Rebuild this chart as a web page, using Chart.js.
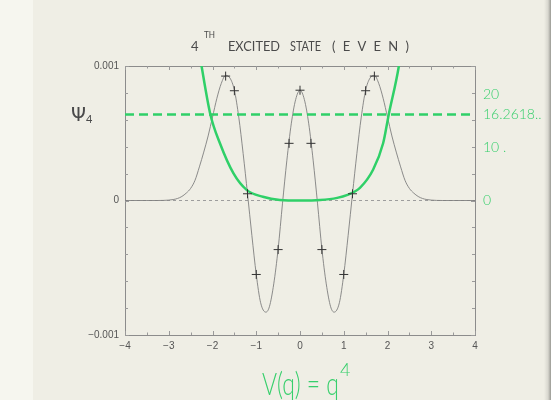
<!DOCTYPE html>
<html>
<head>
<meta charset="utf-8">
<script src="https://cdn.jsdelivr.net/npm/chart.js@4/dist/chart.umd.min.js"></script>
<style>
  html, body { margin: 0; padding: 0; }
  body {
    width: 551px; height: 400px; overflow: hidden;
    background: linear-gradient(to right, #f6f6ef 0px, #f6f6ef 33px, #efeee5 33px, #efeee5 544px, #d8d7cf 548px, #9a9a94 551px);
  }
  canvas { display: block; }
</style>
</head>
<body>
<canvas id="waveChart" width="551" height="400"></canvas>
<script>
// --------------------
// Data
// --------------------
// wavefunction psi_4(q), solid grey curve
const qPsi = [-4, -3.5, -3.25, -3.0, -2.9, -2.8, -2.7, -2.6, -2.5, -2.4, -2.3, -2.2, -2.1, -2.0, -1.9, -1.8, -1.7, -1.6, -1.5, -1.4, -1.3, -1.2, -1.1, -1.0, -0.9, -0.78, -0.7, -0.6, -0.5, -0.4, -0.3, -0.2, -0.1,
              0, 0.1, 0.2, 0.3, 0.4, 0.5, 0.6, 0.7, 0.78, 0.9, 1.0, 1.1, 1.2, 1.3, 1.4, 1.5, 1.6, 1.7, 1.8, 1.9, 2.0, 2.1, 2.2, 2.3, 2.4, 2.5, 2.6, 2.7, 2.8, 2.9, 3.0, 3.25, 3.5, 4];
const psiVals = [0, 0, 0, 0.000003, 0.000007, 0.000015, 0.00003, 0.000055, 0.00009, 0.00015, 0.00025, 0.00036, 0.00048, 0.00062, 0.00076, 0.00087, 0.00093, 0.00091, 0.00082, 0.00062, 0.00035, 0.00005, -0.00026, -0.00055, -0.00076, -0.00083, -0.00079, -0.00062, -0.00036, -0.00002, 0.0003, 0.00057, 0.00075,
                 0.00082, 0.00075, 0.00057, 0.0003, -0.00002, -0.00036, -0.00062, -0.00079, -0.00083, -0.00076, -0.00055, -0.00026, 0.00005, 0.00035, 0.00062, 0.00082, 0.00091, 0.00093, 0.00087, 0.00076, 0.00062, 0.00048, 0.00036, 0.00025, 0.00015, 0.00009, 0.000055, 0.00003, 0.000015, 0.000007, 0.000003, 0, 0, 0];

// the "+" markers
const crossQ = [-1.7, -1.5, -1.2, -1.0, -0.5, -0.25, 0, 0.25, 0.5, 1.0, 1.2, 1.5, 1.7];
const crossPsi = [0.000925, 0.000816, 0.00005, -0.00055, -0.000365, 0.000425, 0.00082, 0.000425, -0.000365, -0.00055, 0.00005, 0.000816, 0.000925];

// hand drawn potential V(q) = q^4 (right axis)
const potQ = [-2.32, -2.25, -2.05, -1.83, -1.52, -1.22, -0.85, -0.46, 0, 0.46, 0.85, 1.07, 1.37, 1.67, 1.9, 2.03, 2.26, 2.32];
const potV = [29, 25.4, 16.3, 10.8, 5.1, 2.0, 0.7, 0.1, 0, 0.1, 0.5, 1.0, 2.4, 5.8, 10.8, 16.3, 25.4, 29];

// energy level of the state
const energyLevel = 16.2618;

// tick labels
const xTicks = [-4, -3, -2, -1, 0, 1, 2, 3, 4];
const yTicks = [-0.001, 0, 0.001];
const yTickLabels = ['\u22120.001', '0', '0.001'];
const y2Ticks = [0, 10, 16.2618, 20];
const y2TickLabels = ['0', '10 .', '16.2618..', '20'];

const GREEN = '#2fd068';
const GREEN_TEXT = '#37cf6c';
const GREY = '#7f7f7f';
const INK = '#4a4a4a';

function pairs(xs, ys) {
    return xs.map((x, i) => ({ x: x, y: ys[i] }));
}

// --------------------
// Frame, inward ticks and handwritten notes
// --------------------
const paperPlugin = {
    id: 'paper',
    beforeDatasetsDraw(chart) {
        const { ctx, chartArea: a, scales } = chart;
        ctx.save();
        ctx.strokeStyle = '#8c8c8c';
        ctx.lineWidth = 1;
        ctx.strokeRect(a.left + 0.5, a.top + 0.5, a.right - a.left, a.bottom - a.top);
        ctx.strokeStyle = '#9a9a9a';
        ctx.beginPath();
        for (let v = -4; v <= 4.001; v += 0.5) {
            const px = Math.round(scales.x.getPixelForValue(v)) + 0.5;
            const len = Number.isInteger(v) ? 4 : 2.5;
            ctx.moveTo(px, a.bottom); ctx.lineTo(px, a.bottom - len);
            ctx.moveTo(px, a.top); ctx.lineTo(px, a.top + len);
        }
        for (let k = -5; k <= 5; k++) {
            const py = Math.round(scales.y.getPixelForValue(k * 0.0002)) + 0.5;
            const len = (k % 5 === 0) ? 4 : 3;
            ctx.moveTo(a.left, py); ctx.lineTo(a.left + len, py);
            ctx.moveTo(a.right, py); ctx.lineTo(a.right - len, py);
        }
        ctx.stroke();
        ctx.restore();
    },
    afterDraw(chart) {
        const ctx = chart.ctx;
        // squeeze or spread a word so it covers the same width as the pen
        const fitText = (text, x, y, width) => {
            ctx.letterSpacing = '0px';
            const w = ctx.measureText(text).width;
            if (w > width) {
                ctx.save();
                ctx.translate(x, y);
                ctx.scale(width / w, 1);
                ctx.fillText(text, 0, 0);
                ctx.restore();
            } else {
                const sp = text.length > 1 ? (width - w) / (text.length - 1) : 0;
                ctx.letterSpacing = sp.toFixed(2) + 'px';
                ctx.fillText(text, x, y);
                ctx.letterSpacing = '0px';
            }
        };
        ctx.save();
        ctx.textAlign = 'left';
        ctx.textBaseline = 'alphabetic';

        // title
        ctx.fillStyle = INK;
        ctx.font = '13px Lato';
        fitText('4', 191, 51, 8);
        ctx.font = '9px Lato';
        fitText('TH', 204, 38, 11);
        ctx.font = '13px Lato';
        fitText('EXCITED', 228, 51, 52);
        fitText('STATE', 290, 51, 31);
        fitText('(EVEN)', 332, 51, 77);

        // psi_4 label
        ctx.font = '19px "DejaVu Sans"';
        ctx.fillText('\u03A8', 71, 121);
        ctx.font = '11px Lato';
        ctx.fillText('4', 86, 123);

        // V(q) = q^4
        ctx.fillStyle = GREEN_TEXT;
        ctx.font = '300 31px Lato';
        fitText('V(q) = q', 262, 395, 77);
        ctx.font = '300 18px Lato';
        ctx.fillText('4', 340, 376);
        ctx.restore();
    }
};

// --------------------
// Render chart
// --------------------
const ctx = document.getElementById('waveChart').getContext('2d');
new Chart(ctx, {
    type: 'scatter',
    data: {
        datasets: [
            {
                label: 'zero',
                data: pairs([-4, 4], [0, 0]),
                showLine: true,
                borderColor: '#9d9d9d',
                borderWidth: 1,
                borderDash: [3, 3],
                pointRadius: 0,
                yAxisID: 'y',
                order: 5
            },
            {
                label: 'psi4',
                data: pairs(qPsi, psiVals),
                showLine: true,
                borderColor: GREY,
                borderWidth: 0.9,
                cubicInterpolationMode: 'monotone',
                pointRadius: 0,
                yAxisID: 'y',
                order: 4
            },
            {
                label: 'E4',
                data: pairs([-4, 4], [energyLevel, energyLevel]),
                showLine: true,
                borderColor: GREEN,
                borderWidth: 2.5,
                borderDash: [9, 5],
                pointRadius: 0,
                yAxisID: 'y2',
                order: 2
            },
            {
                label: 'V(q)',
                data: pairs(potQ, potV),
                showLine: true,
                borderColor: GREEN,
                borderWidth: 2.5,
                cubicInterpolationMode: 'monotone',
                pointRadius: 0,
                yAxisID: 'y2',
                order: 3
            },
            {
                label: 'points',
                data: pairs(crossQ, crossPsi),
                showLine: false,
                pointStyle: 'cross',
                pointRadius: 4.5,
                borderColor: '#333333',
                borderWidth: 1,
                yAxisID: 'y',
                order: 1
            }
        ]
    },
    options: {
        responsive: false,
        animation: false,
        layout: { padding: { top: 66, left: 0, right: 0, bottom: 0 } },
        plugins: {
            legend: { display: false },
            tooltip: { enabled: false }
        },
        scales: {
            x: {
                type: 'linear',
                min: -4, max: 4,
                afterBuildTicks: s => { s.ticks = xTicks.map(v => ({ value: v })); },
                afterFit: s => { s.height = 65; },
                grid: { display: false, drawTicks: false },
                border: { display: false },
                ticks: {
                    padding: 5,
                    maxRotation: 0,
                    color: '#555',
                    font: { family: 'Liberation Sans', size: 10 },
                    callback: v => (v < 0 ? '\u2212' + Math.abs(v) : String(v))
                }
            },
            y: {
                position: 'left',
                min: -0.001, max: 0.001,
                afterBuildTicks: s => { s.ticks = yTicks.map(v => ({ value: v })); },
                afterFit: s => { s.width = 125; },
                grid: { display: false, drawTicks: false },
                border: { display: false },
                ticks: {
                    padding: 6,
                    color: '#555',
                    font: { family: 'Liberation Sans', size: 10 },
                    callback: (v, i) => yTickLabels[i]
                }
            },
            y2: {
                position: 'right',
                min: -25.4, max: 25.4,
                afterBuildTicks: s => { s.ticks = y2Ticks.map(v => ({ value: v })); },
                afterFit: s => { s.width = 76; },
                grid: { display: false, drawTicks: false },
                border: { display: false },
                ticks: {
                    padding: 8,
                    color: GREEN_TEXT,
                    font: { family: 'Lato', size: 14, weight: '300' },
                    callback: (v, i) => y2TickLabels[i]
                }
            }
        }
    },
    plugins: [paperPlugin]
});
</script>
</body>
</html>
